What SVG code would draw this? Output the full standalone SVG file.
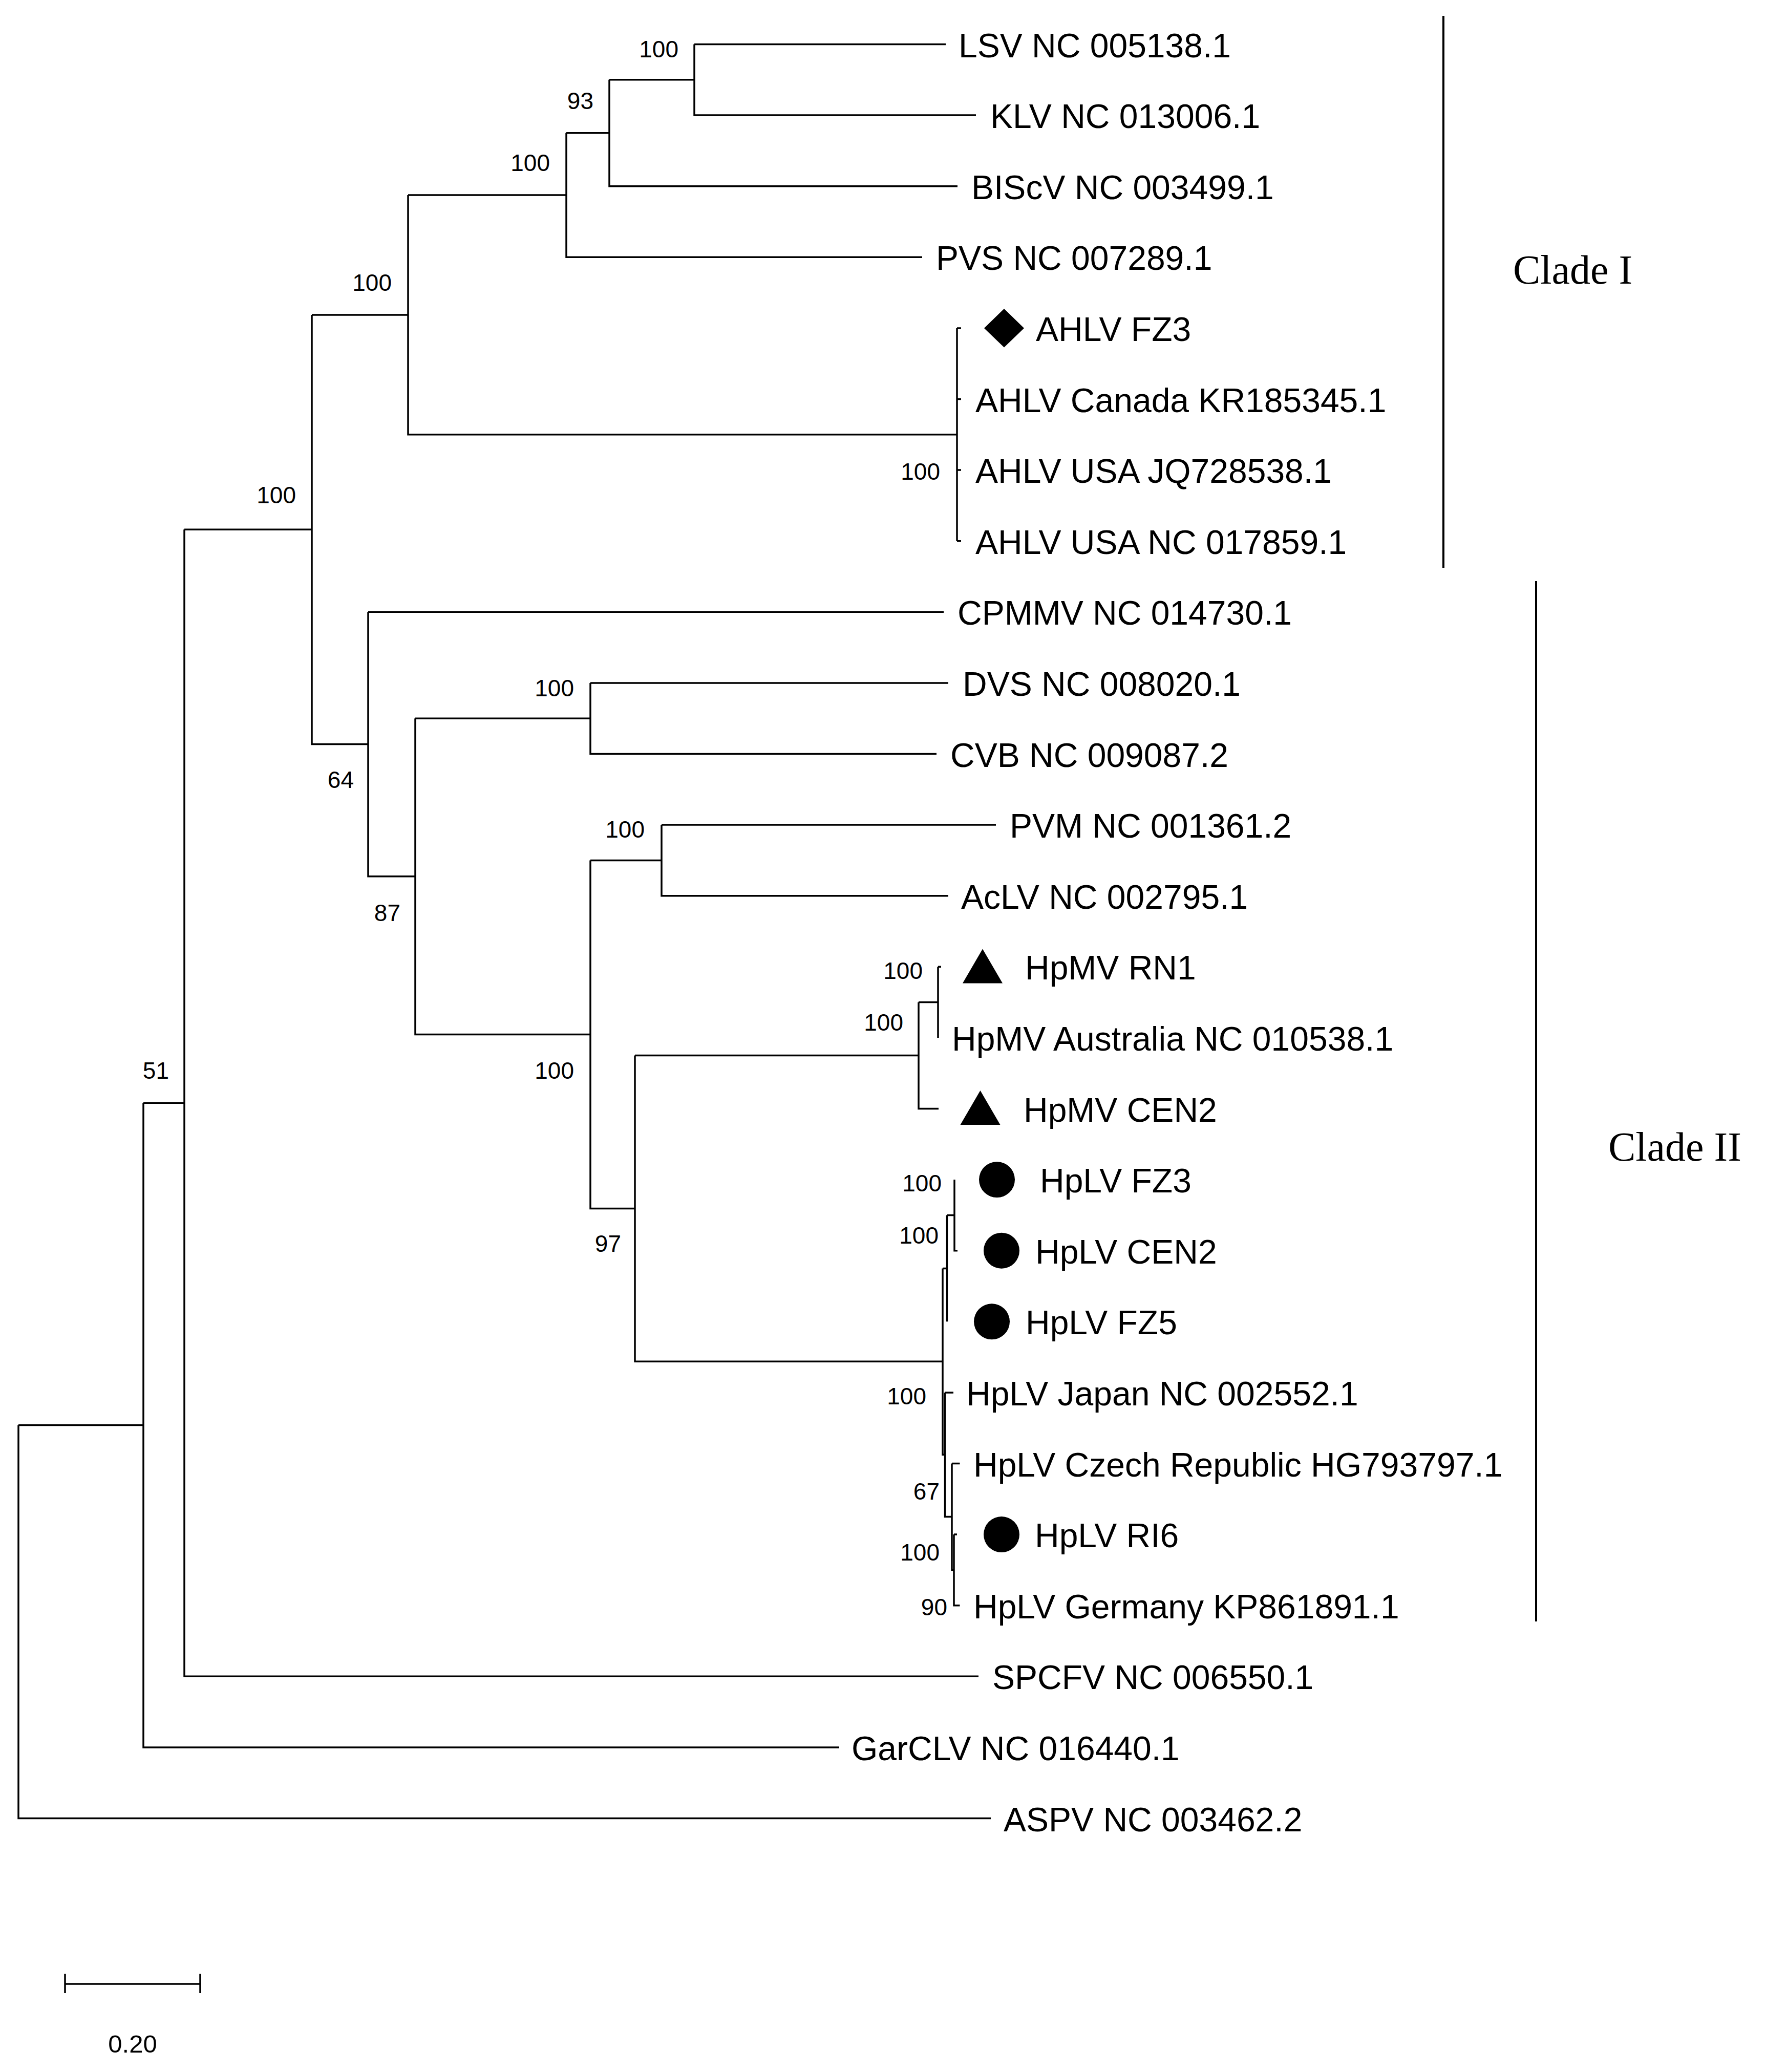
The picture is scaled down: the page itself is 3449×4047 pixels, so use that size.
<svg xmlns="http://www.w3.org/2000/svg" width="3449" height="4047" viewBox="0 0 3449 4047">
<style>
.br{fill:none;stroke:#000;stroke-width:3.5;stroke-linejoin:miter}
.cl{fill:none;stroke:#000;stroke-width:4}
.lf{font-family:"Liberation Sans",Arial,sans-serif;font-size:66px;fill:#000}
.bs{font-family:"Liberation Sans",Arial,sans-serif;font-size:46px;fill:#000;text-anchor:end}
.cd{font-family:"Liberation Serif","Times New Roman",serif;font-size:80px;fill:#000}
.mk{fill:#000}
</style>
<rect width="3449" height="4047" fill="#fff"/>
<g id="connectors">
<path class="br" d="M36 2783.6V3551.5H1935M36 2783.6H280"/>
<path class="br" d="M280 2154.3V3412.9H1639M280 2154.3H360"/>
<path class="br" d="M360 1034.3V3274.3H1911M360 1034.3H609"/>
<path class="br" d="M609 614.9V1453.6H719M609 614.9H797"/>
<path class="br" d="M797 381V848.8H1869M797 381H1106"/>
<path class="br" d="M1106 259.8V502.3H1801M1106 259.8H1190"/>
<path class="br" d="M1190 155.8V363.7H1870M1190 155.8H1356"/>
<path class="br" d="M1356 86.5H1847M1356 86.5V225.1H1906"/>
<path class="br" d="M1869 640.9V1056.7M1869 640.9H1877M1869 779.5H1877M1869 918.1H1877M1869 1056.7H1877"/>
<path class="br" d="M719 1195.3H1843M719 1195.3V1711.8H811"/>
<path class="br" d="M811 1403.2H1153M811 1403.2V2020.4H1153"/>
<path class="br" d="M1153 1333.9H1852M1153 1333.9V1472.5H1829"/>
<path class="br" d="M1153 1680.4H1292M1153 1680.4V2360.4H1240"/>
<path class="br" d="M1292 1611.1H1945M1292 1611.1V1749.7H1852"/>
<path class="br" d="M1240 2061.5H1794M1240 2061.5V2659.3H1841"/>
<path class="br" d="M1794 1957.6H1832M1794 1957.6V2165.5H1833"/>
<path class="br" d="M1832 1888.3H1838M1832 1888.3V2026.9"/>
<path class="br" d="M1841 2477.4H1849.5M1841 2477.4V2841.2H1845.5"/>
<path class="br" d="M1849.5 2373.4H1864M1849.5 2373.4V2581.3"/>
<path class="br" d="M1864 2304.1V2442.7H1870"/>
<path class="br" d="M1845.5 2719.9H1862M1845.5 2719.9V2962.5H1859"/>
<path class="br" d="M1859 2858.5H1874.5M1859 2858.5V3066.4H1863"/>
<path class="br" d="M1863 2997.1H1869M1863 2997.1V3135.7H1874.5"/>
</g>
<g id="bootstrap">
<text class="bs" x="1325" y="111.5">100</text>
<text class="bs" x="1159" y="212.7">93</text>
<text class="bs" x="1074" y="333.7">100</text>
<text class="bs" x="765" y="568">100</text>
<text class="bs" x="578" y="983">100</text>
<text class="bs" x="1836" y="937">100</text>
<text class="bs" x="691" y="1539">64</text>
<text class="bs" x="782" y="1799">87</text>
<text class="bs" x="1121" y="1360">100</text>
<text class="bs" x="1121" y="2107">100</text>
<text class="bs" x="1259" y="1636">100</text>
<text class="bs" x="1213" y="2445">97</text>
<text class="bs" x="330" y="2107">51</text>
<text class="bs" x="1802" y="1912">100</text>
<text class="bs" x="1764" y="2013">100</text>
<text class="bs" x="1839" y="2327">100</text>
<text class="bs" x="1833" y="2428.5">100</text>
<text class="bs" x="1809" y="2743">100</text>
<text class="bs" x="1835" y="2928.6">67</text>
<text class="bs" x="1835" y="3048">100</text>
<text class="bs" x="1850" y="3155">90</text>
</g>
<g id="leaf-LSV"><text class="lf" x="1872" y="111.5">LSV NC 005138.1</text></g>
<g id="leaf-KLV"><text class="lf" x="1934" y="250">KLV NC 013006.1</text></g>
<g id="leaf-BIScV"><text class="lf" x="1897" y="388.7">BIScV NC 003499.1</text></g>
<g id="leaf-PVS"><text class="lf" x="1828" y="527.3">PVS NC 007289.1</text></g>
<g id="leaf-AHLV-FZ3"><path class="mk" d="M1961 603L2000 640.9L1961 678.5L1922 640.9Z"/><text class="lf" x="2023" y="665.9">AHLV FZ3</text></g>
<g id="leaf-AHLV-Canada"><text class="lf" x="1905" y="804.5">AHLV Canada KR185345.1</text></g>
<g id="leaf-AHLV-USA-JQ"><text class="lf" x="1905" y="943.1">AHLV USA JQ728538.1</text></g>
<g id="leaf-AHLV-USA-NC"><text class="lf" x="1905" y="1081.7">AHLV USA NC 017859.1</text></g>
<g id="leaf-CPMMV"><text class="lf" x="1870" y="1220.3">CPMMV NC 014730.1</text></g>
<g id="leaf-DVS"><text class="lf" x="1880" y="1358.9">DVS NC 008020.1</text></g>
<g id="leaf-CVB"><text class="lf" x="1856" y="1497.5">CVB NC 009087.2</text></g>
<g id="leaf-PVM"><text class="lf" x="1972" y="1636.1">PVM NC 001361.2</text></g>
<g id="leaf-AcLV"><text class="lf" x="1877" y="1774.7">AcLV NC 002795.1</text></g>
<g id="leaf-HpMV-RN1"><path class="mk" d="M1919 1853.6L1958 1920.5H1880Z"/><text class="lf" x="2002" y="1913.3">HpMV RN1</text></g>
<g id="leaf-HpMV-Australia"><text class="lf" x="1859" y="2051.9">HpMV Australia NC 010538.1</text></g>
<g id="leaf-HpMV-CEN2"><path class="mk" d="M1914.5 2130L1953.5 2197H1875.5Z"/><text class="lf" x="1999" y="2190.5">HpMV CEN2</text></g>
<g id="leaf-HpLV-FZ3"><circle class="mk" cx="1947" cy="2304.1" r="35"/><text class="lf" x="2031" y="2329.1">HpLV FZ3</text></g>
<g id="leaf-HpLV-CEN2"><circle class="mk" cx="1956" cy="2442.7" r="35"/><text class="lf" x="2022" y="2467.7">HpLV CEN2</text></g>
<g id="leaf-HpLV-FZ5"><circle class="mk" cx="1937" cy="2581.3" r="35"/><text class="lf" x="2003" y="2606.3">HpLV FZ5</text></g>
<g id="leaf-HpLV-Japan"><text class="lf" x="1887" y="2744.9">HpLV Japan NC 002552.1</text></g>
<g id="leaf-HpLV-Czech"><text class="lf" x="1901" y="2883.5">HpLV Czech Republic HG793797.1</text></g>
<g id="leaf-HpLV-RI6"><circle class="mk" cx="1956" cy="2997.1" r="35"/><text class="lf" x="2021" y="3022.1">HpLV RI6</text></g>
<g id="leaf-HpLV-Germany"><text class="lf" x="1901" y="3160.7">HpLV Germany KP861891.1</text></g>
<g id="leaf-SPCFV"><text class="lf" x="1938" y="3299.3">SPCFV NC 006550.1</text></g>
<g id="leaf-GarCLV"><text class="lf" x="1663" y="3437.9">GarCLV NC 016440.1</text></g>
<g id="leaf-ASPV"><text class="lf" x="1960" y="3576.5">ASPV NC 003462.2</text></g>
<g id="clade-I"><path class="cl" d="M2819 31V1109"/><text class="cd" x="2955" y="554">Clade I</text></g>
<g id="clade-II"><path class="cl" d="M3000 1135V3167"/><text class="cd" x="3141" y="2267">Clade II</text></g>
<g id="scale-bar"><path class="br" d="M127 3875H391M127 3855V3893M391 3855V3893"/><text x="259" y="4009" text-anchor="middle" font-family="Liberation Sans, Arial, sans-serif" font-size="49">0.20</text></g>
</svg>
